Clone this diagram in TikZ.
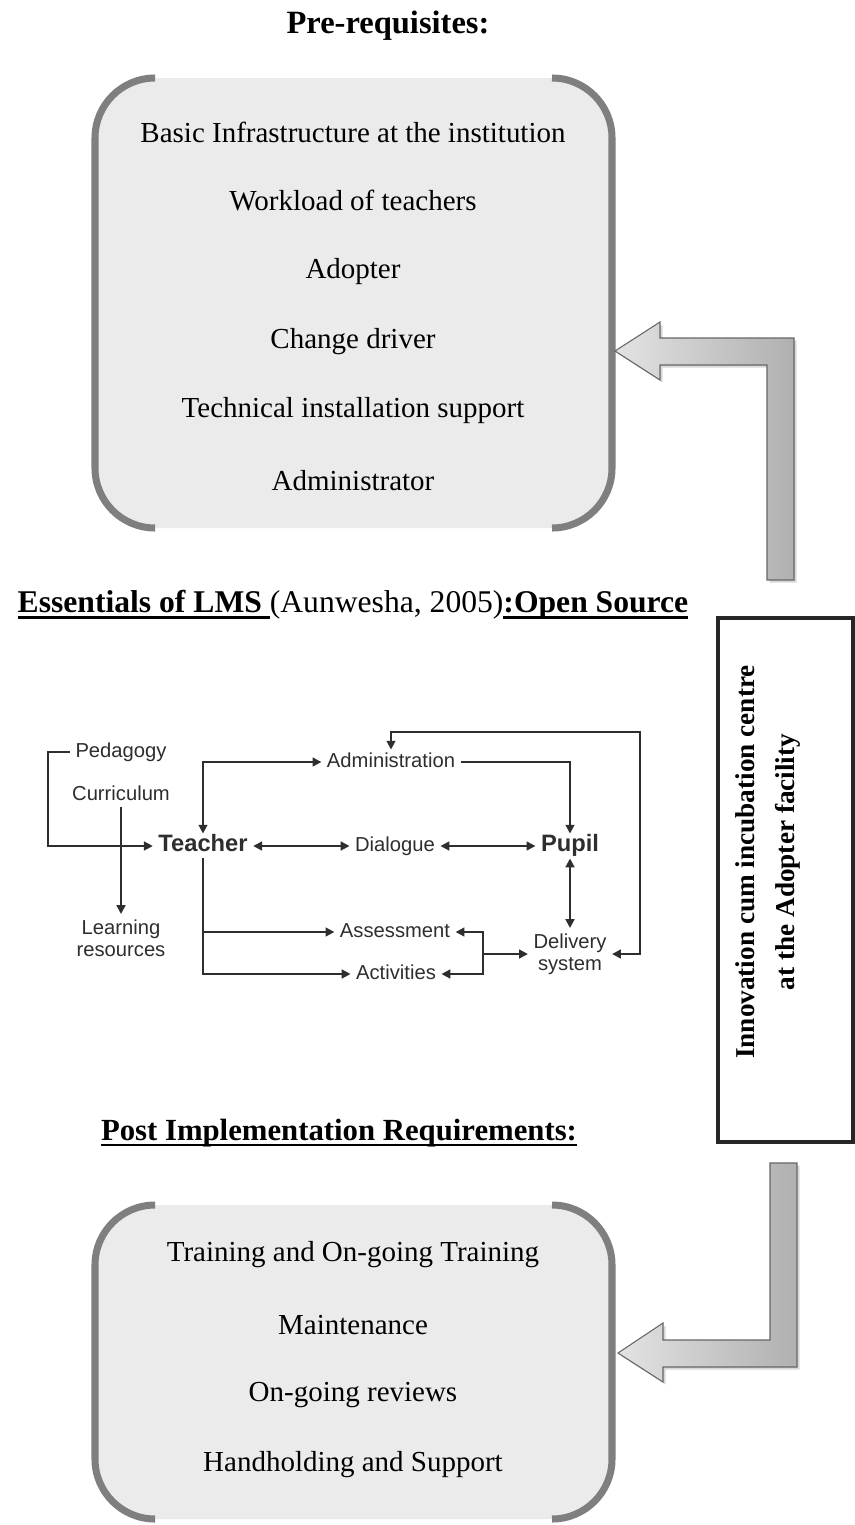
\documentclass[tikz,border=0pt]{standalone}
\usepackage{fontspec}
\setmainfont{Liberation Serif}
\setsansfont{Liberation Sans}
\usetikzlibrary{arrows.meta,positioning,calc,shadows}
\newcommand{\heavyul}[1]{\leavevmode\setbox0=\hbox{#1}%
  \rlap{\vrule width\wd0 height -2.0pt depth 3.3pt}\box0}
\definecolor{boxgray}{HTML}{EBEBEB}
\definecolor{rimgray}{HTML}{7F7F7F}
\definecolor{inkgray}{HTML}{2E2E2E}
\definecolor{arrowedge}{HTML}{666666}
\tikzset{
  rimline/.style={
    draw=rimgray, line width=4pt, rounded corners=1.2cm
  },
  boxtext/.style={
    font=\fontsize{16.5}{19}\selectfont, text=black, inner sep=2pt
  },
  headtext/.style={
    font=\fontsize{#1}{#1}\selectfont\bfseries, inner sep=1pt
  },
  headtext/.default=18,
  lmslabel/.style={
    font=\sffamily\fontsize{11.5}{12.5}\selectfont, text=inkgray,
    inner sep=3pt, align=center
  },
  oneline/.style={
    text height=0.72em, text depth=0.06em
  },
  lmsmain/.style={
    font=\sffamily\bfseries\fontsize{13.5}{14}\selectfont, text=inkgray,
    inner sep=3pt, oneline
  },
  flow/.style={
    -{Triangle[length=5pt,width=5pt]}, line width=1.1pt, color=inkgray
  },
  flowboth/.style={
    {Triangle[length=5pt,width=5pt]}-{Triangle[length=5pt,width=5pt]},
    line width=1.1pt, color=inkgray
  },
  blockarrow/.style={
    left color=gray!22, right color=gray!62, draw=arrowedge, line width=0.6pt,
    drop shadow={shadow xshift=1.5pt, shadow yshift=-1.5pt, opacity=0.3}
  },
  sidetext/.style={
    font=\fontsize{15.5}{22.7}\selectfont\bfseries, align=center, inner sep=1pt
  },
}

\begin{document}
\begin{tikzpicture}[x=0.02cm, y=-0.02cm]
  \fill[white] (0,0) rectangle (855,1525);
  \useasboundingbox (0,0) rectangle (855,1525);

  % Pre-requisites
  \node[headtext=18.5] (prehead) at (388,26) {Pre-requisites:};
  \fill[boxgray, rounded corners=1.2cm] (95,78) rectangle (612,528);
  \draw[rimline] (155,78) -- (95,78) -- (95,528) -- (155,528);
  \draw[rimline] (552,78) -- (612,78) -- (612,528) -- (552,528);
  \node[boxtext] (pre1) at (353,132) {Basic Infrastructure at the institution};
  \node[boxtext] (pre2) at (353,201) {Workload of teachers};
  \node[boxtext] (pre3) at (353,272) {Adopter};
  \node[boxtext] (pre4) at (353,342) {Change driver};
  \node[boxtext] (pre5) at (353,411) {Technical installation support};
  \node[boxtext] (pre6) at (353,481) {Administrator};

  % bent arrow into the top box
  \shade[blockarrow] (615,351) -- (660,322) -- (660,338) -- (794,338) -- (794,580)
    -- (767,580) -- (767,365) -- (660,365) -- (660,380) -- cycle;

  % LMS heading
  \node[font=\fontsize{18}{18}\selectfont, inner sep=1pt] (lmshead) at (353,605)
    {\heavyul{\bfseries Essentials of LMS\ }(Aunwesha, 2005)\heavyul{\bfseries :Open Source}};

  % Incubation centre
  \draw[line width=2.3pt, color=black!85] (718,618) rectangle (853,1142);
  \node[sidetext, rotate=90] (icc) at (768,862)
    {Innovation cum incubation centre\\at the Adopter facility};

  % LMS diagram
  \node[lmslabel, oneline] (ped) at (121,752) {Pedagogy};
  \node[lmslabel, oneline] (curr) at (121,795) {Curriculum};
  \node[lmslabel] (learn) at (121,938) {Learning\\resources};
  \node[lmsmain] (teacher) at (203,846) {Teacher};
  \node[lmslabel, oneline] (dialog) at (395,846) {Dialogue};
  \node[lmsmain] (pupil) at (570,846) {Pupil};
  \node[lmslabel, oneline] (admin) at (391,762) {Administration};
  \node[lmslabel, oneline] (assess) at (395,932) {Assessment};
  \node[lmslabel, oneline] (activ) at (396,974) {Activities};
  \node[lmslabel] (deliv) at (570,954) {Delivery\\system};
  \coordinate (join) at (483,954);
  \coordinate (loop) at (640,732);

  \draw[flow] (ped.west) -- ++(-22,0) |- (teacher.west);
  \draw[flow] (curr.south) -- (learn.north);
  \draw[flowboth] (teacher.north) |- (admin.west);
  \draw[flow] (admin.east) -| (pupil.north);
  \draw[flowboth] (teacher.east) -- (dialog.west);
  \draw[flowboth] (dialog.east) -- (pupil.west);
  \draw[flowboth] (pupil.south) -- (deliv.north);
  \draw[flow] (teacher.south) |- (activ.west);
  \draw[flow] (teacher.south |- assess.west) -- (assess.west);
  \draw[flow] (join) |- (assess.east);
  \draw[flow] (join) |- (activ.east);
  \draw[flow] (join) -- (join -| deliv.west);
  \draw[flowboth] (admin.north) |- (loop) |- (deliv.east);

  % Post implementation
  \node[headtext=17.5] (posthead) at (339,1133) {\heavyul{Post Implementation Requirements:}};

  % bent arrow into the bottom box
  \shade[blockarrow] (618,1353) -- (663,1323) -- (663,1340) -- (770,1340) -- (770,1163)
    -- (797,1163) -- (797,1367) -- (663,1367) -- (663,1382) -- cycle;

  \fill[boxgray, rounded corners=1.2cm] (95,1205) rectangle (612,1519);
  \draw[rimline] (155,1205) -- (95,1205) -- (95,1519) -- (155,1519);
  \draw[rimline] (552,1205) -- (612,1205) -- (612,1519) -- (552,1519);
  \node[boxtext] (post1) at (353,1255) {Training and On-going Training};
  \node[boxtext] (post2) at (353,1325) {Maintenance};
  \node[boxtext] (post3) at (353,1395) {On-going reviews};
  \node[boxtext] (post4) at (353,1465) {Handholding and Support};
\end{tikzpicture}
\end{document}
